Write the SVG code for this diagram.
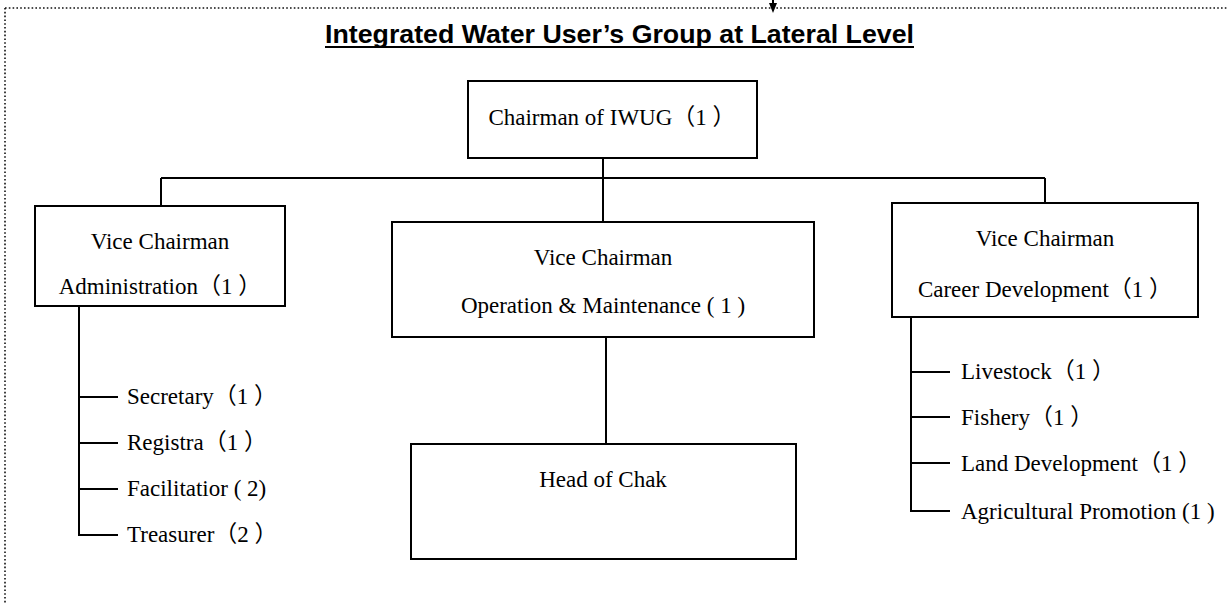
<svg xmlns="http://www.w3.org/2000/svg" width="1227" height="604" viewBox="0 0 1227 604">
<style>
.box{fill:#fff;stroke:#000;stroke-width:2}
.ln{stroke:#000;stroke-width:2;fill:none}
.t{font-family:"Liberation Serif","Noto Sans CJK SC",serif;font-size:23px;fill:#000}
.c{text-anchor:middle}
.title{font-family:"Liberation Sans",Arial,sans-serif;font-weight:bold;font-size:25px;fill:#000}
</style>
<rect width="1227" height="604" fill="#fff"/>
<g id="frame">
<path d="M5,8 H1227 M5,8 V604" stroke="#111" stroke-width="1.6" stroke-dasharray="1.6 2.2" fill="none"/>
<path d="M773,0 V5" stroke="#000" stroke-width="2"/>
<polygon points="769,3 777,3 773,13" fill="#000"/>
</g>
<g id="title">
<text class="title" x="325" y="43" textLength="589" lengthAdjust="spacingAndGlyphs">Integrated Water User’s Group at Lateral Level</text>
<line x1="325" y1="47" x2="914" y2="47" stroke="#000" stroke-width="2.2"/>
</g>
<g id="connectors">
<path class="ln" d="M603,158 V222 M161,178 H1045 M161,178 V206 M1045,178 V203 M606,337 V444"/>
<path class="ln" d="M79,306 V535 H118 M79,397 H118 M79,443 H118 M79,489 H118"/>
<path class="ln" d="M911,317 V511 H950 M911,372 H950 M911,417 H950 M911,463 H950"/>
</g>
<g id="chairman">
<rect class="box" x="468" y="81" width="289" height="77"/>
<text class="t c" x="612" y="125">Chairman of IWUG（1 ）</text>
</g>
<g id="vc-admin">
<rect class="box" x="35" y="206" width="250" height="100"/>
<text class="t c" x="160" y="249">Vice Chairman</text>
<text class="t c" x="160" y="294">Administration（1 ）</text>
</g>
<g id="vc-om">
<rect class="box" x="392" y="222" width="422" height="115"/>
<text class="t c" x="603" y="265">Vice Chairman</text>
<text class="t c" x="603" y="313">Operation &amp; Maintenance ( 1 )</text>
</g>
<g id="vc-career">
<rect class="box" x="892" y="203" width="306" height="114"/>
<text class="t c" x="1045" y="246">Vice Chairman</text>
<text class="t c" x="1045" y="297">Career Development（1 ）</text>
</g>
<g id="head-chak">
<rect class="box" x="411" y="444" width="385" height="115"/>
<text class="t c" x="603" y="487">Head of Chak</text>
</g>
<g id="admin-list">
<text class="t" x="127" y="404">Secretary（1 ）</text>
<text class="t" x="127" y="450">Registra（1 ）</text>
<text class="t" x="127" y="496">Facilitatior ( 2)</text>
<text class="t" x="127" y="542">Treasurer（2 ）</text>
</g>
<g id="career-list">
<text class="t" x="961" y="379">Livestock（1 ）</text>
<text class="t" x="961" y="425">Fishery（1 ）</text>
<text class="t" x="961" y="471">Land Development（1 ）</text>
<text class="t" x="961" y="519">Agricultural Promotion (1 )</text>
</g>
</svg>
